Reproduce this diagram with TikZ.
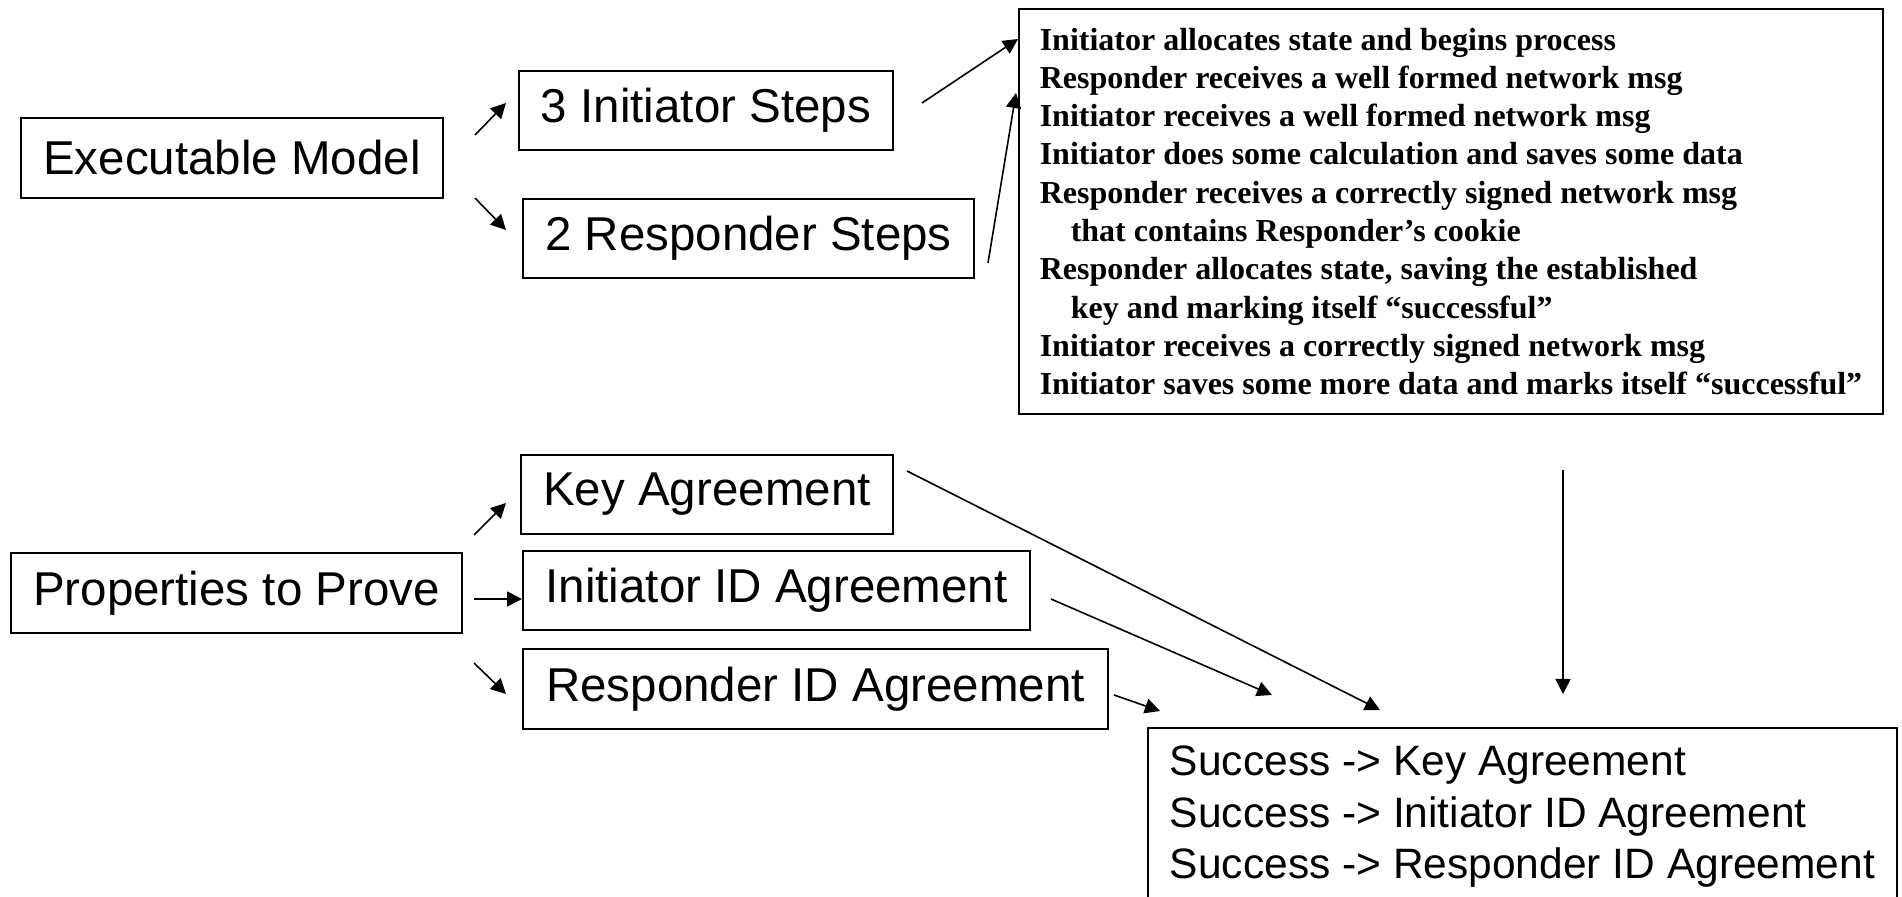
\documentclass[tikz,border=0pt]{standalone}
\usepackage{fontspec}
\setmainfont{Liberation Serif}
\newfontfamily\hvfont{Liberation Sans}
\usetikzlibrary{arrows.meta}
\begin{document}
\begin{tikzpicture}[x=0.5pt,y=-0.5pt,
  box/.style={draw,line width=1pt,inner sep=0pt,font=\hvfont\fontsize{23.75pt}{28pt}\selectfont},
  bigbox/.style={draw,line width=1pt,inner sep=0pt,align=left},
  conn/.style={-{Triangle[length=7.5pt,width=7.5pt]},line width=0.8pt}]
\useasboundingbox (0,0) rectangle (1902,897);
\clip (0,0) rectangle (1902,897);

\node[box,minimum width=211pt,minimum height=40pt] (exec) at (232,158) {Executable Model};
\node[box,minimum width=187pt,minimum height=39.5pt] (init3) at (706,110.5) {3 Initiator Steps};
\node[box,minimum width=225.5pt,minimum height=39.5pt] (resp2) at (748.5,238.5) {2 Responder Steps};
\node[bigbox,minimum width=432pt,minimum height=202.5pt,font=\bfseries\fontsize{16pt}{19.15pt}\selectfont] (steps) at (1451,211.5) {%
Initiator allocates state and begins process\\
Responder receives a well formed network msg\\
Initiator receives a well formed network msg\\
Initiator does some calculation and saves some data\\
Responder receives a correctly signed network msg\\
\hspace*{15.5pt}that contains Responder’s cookie\\
Responder allocates state, saving the established\\
\hspace*{15.5pt}key and marking itself “successful”\\
Initiator receives a correctly signed network msg\\
Initiator saves some more data and marks itself “successful”};

\node[box,minimum width=186pt,minimum height=39.5pt] (key) at (707,494.5) {Key Agreement};
\node[box,minimum width=253.5pt,minimum height=39.5pt] (iid) at (776.5,590.5) {Initiator ID Agreement};
\node[box,minimum width=292.5pt,minimum height=40pt] (rid) at (815.5,689) {Responder ID Agreement};
\node[box,minimum width=225.5pt,minimum height=40pt] (props) at (236.5,593) {Properties to Prove};
\node[bigbox,anchor=north west,inner xsep=10.5pt,inner ysep=9pt,minimum width=374.5pt,font=\hvfont\fontsize{21.25pt}{25.75pt}\selectfont] (succ) at (1147,727) {%
Success -> Key Agreement\\
Success -> Initiator ID Agreement\\
Success -> Responder ID Agreement};

% connector end points (free ends)
\coordinate (a1s) at (475,135);  \coordinate (a1e) at (506,103);
\coordinate (a2s) at (475,198);  \coordinate (a2e) at (506,230);
\coordinate (a3s) at (922,103);  \coordinate (a3e) at (1018,39);
\coordinate (a4s) at (988,263);  \coordinate (a4e) at (1016,93);
\coordinate (a5s) at (474,535);  \coordinate (a5e) at (506,503);
\coordinate (a6s) at (474,599);  \coordinate (a6e) at (522,599);
\coordinate (a7s) at (474,663);  \coordinate (a7e) at (506,694);
\coordinate (a8s) at (907,471);  \coordinate (a8e) at (1380,710);
\coordinate (a9s) at (1051,599); \coordinate (a9e) at (1272,695);
\coordinate (a10s) at (1114,695); \coordinate (a10e) at (1160,711);
\coordinate (a11s) at (1563,470); \coordinate (a11e) at (1563,694);

\draw[conn] (a1s) -- (a1e);
\draw[conn] (a2s) -- (a2e);
\draw[conn] (a3s) -- (a3e);
\draw[conn] (a4s) -- (a4e);
\draw[conn] (a5s) -- (a5e);
\draw[conn] (a6s) -- (a6e);
\draw[conn] (a7s) -- (a7e);
\draw[conn] (a8s) -- (a8e);
\draw[conn] (a9s) -- (a9e);
\draw[conn] (a10s) -- (a10e);
\draw[conn] (a11s) -- (a11e);
\end{tikzpicture}
\end{document}
